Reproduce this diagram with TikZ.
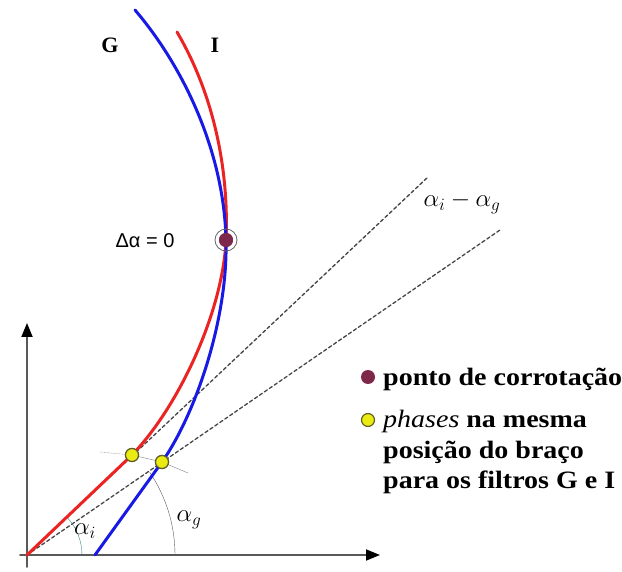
\documentclass[tikz,border=0pt]{standalone}
\usepackage{fontspec}
\setmainfont{Liberation Serif}
\newfontfamily\lsans{Liberation Sans}
\newfontfamily\legfont{Liberation Serif}[FakeStretch=1.12]
\usetikzlibrary{arrows.meta,calc,positioning}
\definecolor{gblue}{RGB}{25,25,230}
\definecolor{ired}{RGB}{235,35,35}
\definecolor{corcol}{RGB}{125,40,75}
\definecolor{phcol}{RGB}{235,235,20}
\tikzset{
  curveG/.style={gblue, line width=3pt},
  curveI/.style={ired, line width=3pt},
  guide/.style={gray!55!black, line width=1.3pt, dash pattern=on 3.5pt off 2.5pt},
  axis/.style={gray!70!black, line width=1.8pt, -{Triangle[length=14pt,width=11pt,color=black]}},
  corpt/.style={circle, fill=corcol, inner sep=0pt, minimum size=14pt},
  phasept/.style={circle, fill=phcol, draw=olive!60!black, line width=1.2pt, inner sep=0pt, minimum size=13pt},
  lbl/.style={font=\legfont\fontsize{25}{30}\selectfont\bfseries, inner sep=0pt, anchor=base west},
  every picture/.style={line cap=round, line join=round}
}

\begin{document}
\begin{tikzpicture}[x=1pt,y=1pt]
  \useasboundingbox (0,0) rectangle (622,-572);
  \coordinate (orig) at (27,-555);
  \coordinate (ybot) at (27,-567);
  \coordinate (ytop) at (27,-323);
  \coordinate (xbeg) at (20,-555);
  \coordinate (xend) at (380,-555);
  \coordinate (dI) at (428,-177);
  \coordinate (dG) at (500,-230);
  \coordinate (tk) at (100,-452);
  \coordinate (tkend) at (188,-473);
  \coordinate (topI) at (177,-32);
  \coordinate (topG) at (135,-10);
  \coordinate (botG) at (95,-555);
  \node[corpt] (cor) at (226,-240) {};
  \node[phasept] (phI) at (132,-455) {};
  \node[phasept] (phG) at (162,-462) {};
  \draw[axis] (ybot) -- (ytop);
  \draw[axis] (xbeg) -- (xend);
  \draw[guide] (orig) -- (dI);
  \draw[guide] (orig) -- (dG);
  \draw[gray!70!black, thin] ($(orig)+(148,0)$) arc[start angle=0, end angle=34, radius=148];
  \draw[teal!50!gray, thin] ($(orig)+(55,0)$) arc[start angle=0, end angle=43, radius=55];
  \draw[gray, densely dotted, thin] (tk) -- (phI.center);
  \draw[gray, thin] (phI.center) -- (phG.center) -- (tkend);
  \draw[curveI] (topI) .. controls (214,-95) and (229,-170) .. (cor.center)
    .. controls (223,-310) and (180,-405) .. (phI.center) -- (orig);
  \draw[curveG] (topG) .. controls (182,-65) and (224,-150) .. (cor.center)
    .. controls (228,-320) and (195,-415) .. (phG.center) -- (botG);
  \node[corpt] at (cor) {};
  \draw[gray!80!black, line width=0.8pt] (cor) circle[radius=11];
  \node[phasept] at (phI) {};
  \node[phasept] at (phG) {};
  \node[font=\fontsize{22}{26}\selectfont\bfseries] (labG) at (110,-45) {G};
  \node[font=\fontsize{22}{26}\selectfont\bfseries] (labI) at (215,-45) {I};
  \node[font=\lsans\fontsize{20}{24}\selectfont] (dalpha) at (145,-241) {Δα = 0};
  \node[font=\fontsize{23}{26}\selectfont] (dif) at (462,-203) {$\alpha_i-\alpha_g$};
  \node[font=\fontsize{24}{26}\selectfont] (ai) at (85,-531) {$\alpha_i$};
  \node[font=\fontsize{24}{26}\selectfont] (ag) at (189,-520) {$\alpha_g$};
  \node[corpt] (legcor) at (368,-377) {};
  \node[lbl] (legcortxt) at (383,-385) {ponto de corrotação};
  \node[phasept] (legph) at (368,-420) {};
  \node[lbl] (legph1) at (383,-428) {\textit{\mdseries phases} na mesma};
  \node[lbl] (legph2) at (383,-458) {posição do braço};
  \node[lbl] (legph3) at (383,-488) {para os filtros G e I};
\end{tikzpicture}
\end{document}
